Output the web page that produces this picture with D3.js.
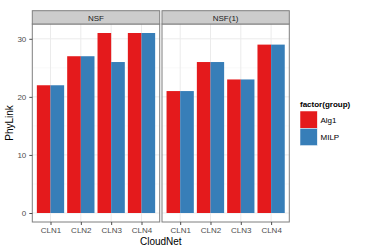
<!DOCTYPE html>
<html>
<head>
<meta charset="utf-8">
<script src="https://cdn.jsdelivr.net/npm/d3@7"></script>
<style>
body { margin: 0; background: #fff; }
text { font-family: "Liberation Sans", Arial, sans-serif; }
</style>
</head>
<body>
<script>
var panels = ['NSF', 'NSF(1)'];
var clouds = ['CLN1', 'CLN2', 'CLN3', 'CLN4'];
var groups = ['Alg1', 'MILP'];
var alg1 = [[22, 27, 31, 31], [21, 26, 23, 29]];
var milp = [[22, 27, 26, 31], [21, 26, 23, 29]];
var yTicks = [0, 10, 20, 30];
var colors = ['#E41A1C', '#377EB8'];

var w = 369, h = 252;
var svg = d3.select('body').append('svg')
    .attr('width', w).attr('height', h);

var pTop = 24, pBottom = 222;
var panelX = [[32.3, 159.7], [162, 289.3]];

var y = d3.scaleLinear().domain([-1.55, 32.55]).range([pBottom, pTop]);

panels.forEach(function (p, pi) {
    var x0 = panelX[pi][0], x1 = panelX[pi][1];
    var x = d3.scaleLinear().domain([0.4, 4.6]).range([x0, x1]);
    var g = svg.append('g');

    // grid
    [5, 15, 25].forEach(function (v) {
        g.append('line').attr('x1', x0).attr('x2', x1)
            .attr('y1', y(v)).attr('y2', y(v))
            .attr('stroke', '#F5F5F5').attr('stroke-width', 0.5);
    });
    yTicks.forEach(function (v) {
        g.append('line').attr('x1', x0).attr('x2', x1)
            .attr('y1', y(v)).attr('y2', y(v))
            .attr('stroke', '#EBEBEB').attr('stroke-width', 1);
    });
    clouds.forEach(function (c, i) {
        g.append('line').attr('x1', x(i + 1)).attr('x2', x(i + 1))
            .attr('y1', pTop).attr('y2', pBottom)
            .attr('stroke', '#EBEBEB').attr('stroke-width', 1);
    });

    // bars
    var bw = x(1.45) - x(1);
    clouds.forEach(function (c, i) {
        [alg1[pi][i], milp[pi][i]].forEach(function (v, gi) {
            g.append('rect')
                .attr('x', x(i + 1 - 0.45) + gi * bw)
                .attr('y', y(v))
                .attr('width', bw)
                .attr('height', y(0) - y(v))
                .attr('fill', colors[gi]);
        });
    });

    // panel border
    g.append('rect').attr('x', x0).attr('y', pTop)
        .attr('width', x1 - x0).attr('height', pBottom - pTop)
        .attr('fill', 'none').attr('stroke', '#7F7F7F').attr('stroke-width', 1);

    // strip
    g.append('rect').attr('x', x0).attr('y', 10.7)
        .attr('width', x1 - x0).attr('height', pTop - 10.7)
        .attr('fill', '#CCCCCC').attr('stroke', '#7F7F7F').attr('stroke-width', 1);
    g.append('text').attr('x', (x0 + x1) / 2).attr('y', 20.5)
        .attr('text-anchor', 'middle').attr('font-size', 8)
        .attr('fill', '#1A1A1A').text(p);

    // x axis ticks
    var xa = d3.axisBottom(x).tickValues([1, 2, 3, 4])
        .tickFormat(function (d) { return clouds[d - 1]; })
        .tickSize(3).tickSizeOuter(0);
    var ax = svg.append('g').attr('transform', 'translate(0,' + pBottom + ')').call(xa);
    ax.select('.domain').remove();
    ax.selectAll('line').attr('stroke', '#4D4D4D');
    ax.selectAll('text').attr('font-size', 8).attr('fill', '#4D4D4D')
        .attr('font-family', '"Liberation Sans", Arial, sans-serif').attr('dy', '0.68em');
});

// y axis
var ya = d3.axisLeft(y).tickValues(yTicks).tickSize(3).tickSizeOuter(0);
var ay = svg.append('g').attr('transform', 'translate(' + panelX[0][0] + ',0)').call(ya);
ay.select('.domain').remove();
ay.selectAll('line').attr('stroke', '#4D4D4D');
ay.selectAll('text').attr('font-size', 8).attr('fill', '#4D4D4D')
    .attr('font-family', '"Liberation Sans", Arial, sans-serif');

// axis titles
svg.append('text').attr('x', (panelX[0][0] + panelX[1][1]) / 2).attr('y', 245)
    .attr('text-anchor', 'middle').attr('font-size', 10).text('CloudNet');
svg.append('text').attr('transform', 'translate(13,' + (pTop + pBottom) / 2 + ') rotate(-90)')
    .attr('text-anchor', 'middle').attr('font-size', 10).text('PhyLink');

// legend
var lg = svg.append('g');
lg.append('text').attr('x', 300).attr('y', 107).attr('font-size', 8)
    .attr('font-weight', 'bold').text('factor(group)');
groups.forEach(function (gname, i) {
    lg.append('rect').attr('x', 300).attr('y', 111 + i * 17.3)
        .attr('width', 17.3).attr('height', 17.3)
        .attr('fill', colors[i]).attr('stroke', '#fff').attr('stroke-width', 0.5);
    lg.append('text').attr('x', 320.5).attr('y', 111 + i * 17.3 + 11.5)
        .attr('font-size', 8).text(gname);
});
</script>
</body>
</html>
